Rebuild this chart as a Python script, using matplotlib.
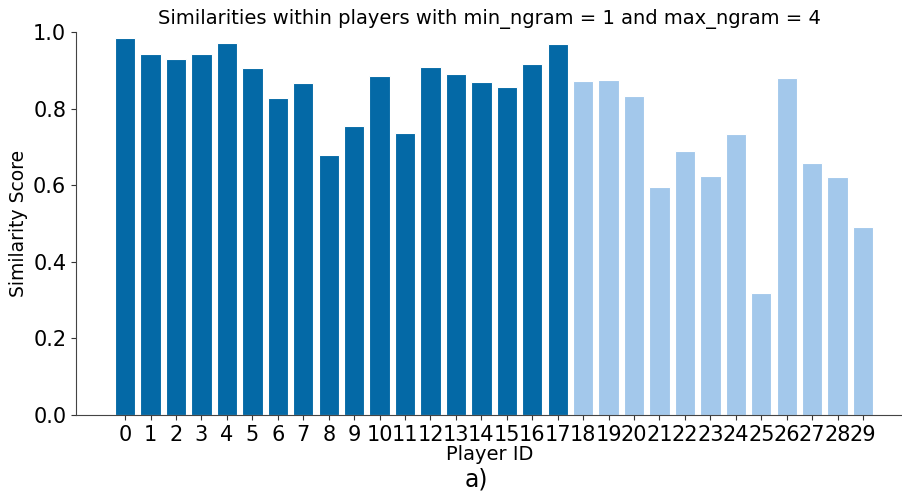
import numpy as np
import matplotlib.pyplot as plt

player_ids = np.arange(30)
scores = [0.984, 0.943, 0.929, 0.943, 0.971, 0.905, 0.829, 0.867, 0.678, 0.755,
          0.885, 0.736, 0.909, 0.890, 0.869, 0.857, 0.916, 0.969,
          0.872, 0.875, 0.832, 0.596, 0.690, 0.624, 0.734, 0.319, 0.881,
          0.659, 0.621, 0.491]
n_train = 18

dark = "#0469a6"
light = "#a3c8eb"
colors = [dark if i < n_train else light for i in player_ids]

fig = plt.figure(figsize=(9.03, 4.93), dpi=100)
ax = fig.add_axes([0.0842, 0.1582, 0.9158, 0.7768])
ax.bar(player_ids, scores, width=0.8, color=colors, edgecolor="white", linewidth=0.8)

ax.set_xlim(-1.93, 30.57)
ax.set_ylim(0, 1.0)
ax.set_xticks(player_ids)
ax.set_xticklabels([str(i) for i in player_ids])
ax.set_yticks([0.0, 0.2, 0.4, 0.6, 0.8, 1.0])
ax.tick_params(labelsize=15, colors="#333333", labelcolor="black")
ax.spines["top"].set_visible(False)
ax.spines["right"].set_visible(False)
for s in ("left", "bottom"):
    ax.spines[s].set_color("#444444")

ax.set_title("Similarities within players with min_ngram = 1 and max_ngram = 4",
             fontsize=14, pad=6)
ax.set_ylabel("Similarity Score", fontsize=13.5)
ax.set_xlabel("Player ID", fontsize=14, labelpad=0)
fig.text(0.528, 0.014, "a)", fontsize=17, ha="center", va="baseline")

fig.savefig("out.png", dpi=100)
